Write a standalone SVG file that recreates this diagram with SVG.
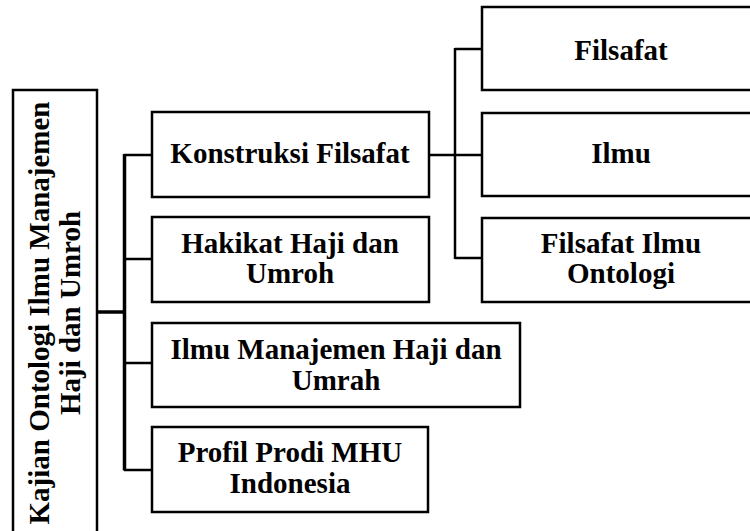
<svg xmlns="http://www.w3.org/2000/svg" width="750" height="531" viewBox="0 0 750 531">
<style>
.box{fill:#fff;stroke:#000;stroke-width:2.5}
.t{font-family:"Liberation Serif","Times New Roman",serif;font-weight:bold;font-size:29px;fill:#000;text-anchor:middle}
.rt{font-size:29px}
.c{fill:none;stroke:#000;stroke-width:2.5}
.thick{stroke-width:3.5}
</style>
<rect width="750" height="531" fill="#fff"/>
<g id="connectors">
<path class="c thick" d="M97 312H124"/>
<path class="c thick" d="M124.5 154V470.5"/>
<path class="c" d="M124 155H152M124 259H152M124 363H152M124 470H152"/>
<path class="c" d="M429 155H482M455 48V259M455 49H482M455 258H482"/>
</g>
<g id="root">
<rect class="box" x="13" y="90" width="84" height="460"/>
<text class="t rt" transform="rotate(-90)" x="-313" y="49">Kajian Ontologi Ilmu Manajemen</text>
<text class="t rt" transform="rotate(-90)" x="-313" y="80">Haji dan Umroh</text>
</g>
<g id="konstruksi">
<rect class="box" x="152" y="112" width="277" height="85"/>
<text class="t" x="290" y="163">Konstruksi Filsafat</text>
</g>
<g id="hakikat">
<rect class="box" x="152" y="217" width="277" height="85"/>
<text class="t" x="290" y="253">Hakikat Haji dan</text>
<text class="t" x="290" y="283">Umroh</text>
</g>
<g id="ilmu-manajemen">
<rect class="box" x="152" y="323" width="368" height="84"/>
<text class="t" x="336" y="359">Ilmu Manajemen Haji dan</text>
<text class="t" x="336" y="390">Umrah</text>
</g>
<g id="profil">
<rect class="box" x="152" y="427" width="276" height="85"/>
<text class="t" x="290" y="462">Profil Prodi MHU</text>
<text class="t" x="290" y="493">Indonesia</text>
</g>
<g id="filsafat">
<rect class="box" x="482" y="7" width="280" height="83"/>
<text class="t" x="621" y="60">Filsafat</text>
</g>
<g id="ilmu">
<rect class="box" x="482" y="113" width="280" height="83"/>
<text class="t" x="621" y="163">Ilmu</text>
</g>
<g id="filsafat-ilmu-ontologi">
<rect class="box" x="482" y="218" width="280" height="84"/>
<text class="t" x="621" y="253">Filsafat Ilmu</text>
<text class="t" x="621" y="283">Ontologi</text>
</g>
</svg>
